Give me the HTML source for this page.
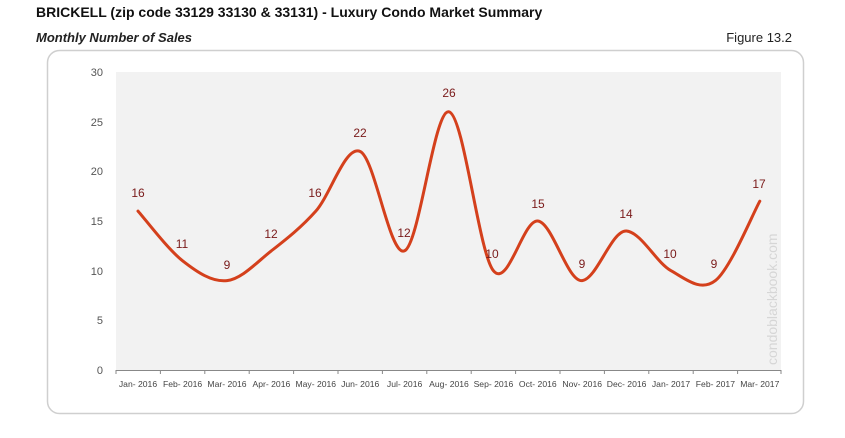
<!DOCTYPE html>
<html><head><meta charset="utf-8"><style>
body{margin:0;background:#fff;width:845px;height:433px;overflow:hidden;font-family:"Liberation Sans",sans-serif}
</style></head><body>
<svg width="845" height="433" xmlns="http://www.w3.org/2000/svg" font-family="Liberation Sans, sans-serif">
<text x="36" y="17" font-size="14" font-weight="bold" fill="#111">BRICKELL (zip code 33129 33130 &amp; 33131) - Luxury Condo Market Summary</text>
<text x="36" y="42" font-size="13" font-weight="bold" font-style="italic" fill="#222">Monthly Number of Sales</text>
<text x="792" y="42" font-size="13" fill="#222" text-anchor="end">Figure 13.2</text>
<rect x="47.5" y="50.5" width="756" height="363" rx="12" fill="#fff" stroke="#cfcfcf" stroke-width="1.5"/>
<rect x="116" y="72" width="665" height="298" fill="#f2f2f2"/>
<g font-size="11" fill="#555" text-anchor="end">
<text x="103" y="374">0</text><text x="103" y="324">5</text><text x="103" y="275">10</text><text x="103" y="225">15</text><text x="103" y="175">20</text><text x="103" y="126">25</text><text x="103" y="76">30</text>
</g>
<line x1="116" y1="370.5" x2="781" y2="370.5" stroke="#888" stroke-width="1"/>
<g stroke="#888" stroke-width="1">
<line x1="116" y1="370" x2="116" y2="374"/><line x1="160.4" y1="370" x2="160.4" y2="374"/><line x1="204.8" y1="370" x2="204.8" y2="374"/><line x1="249.2" y1="370" x2="249.2" y2="374"/><line x1="293.6" y1="370" x2="293.6" y2="374"/><line x1="338" y1="370" x2="338" y2="374"/><line x1="382.4" y1="370" x2="382.4" y2="374"/><line x1="426.8" y1="370" x2="426.8" y2="374"/><line x1="471.2" y1="370" x2="471.2" y2="374"/><line x1="515.6" y1="370" x2="515.6" y2="374"/><line x1="560" y1="370" x2="560" y2="374"/><line x1="604.4" y1="370" x2="604.4" y2="374"/><line x1="648.8" y1="370" x2="648.8" y2="374"/><line x1="693.2" y1="370" x2="693.2" y2="374"/><line x1="737.6" y1="370" x2="737.6" y2="374"/><line x1="781" y1="370" x2="781" y2="374"/>
</g>
<g font-size="8.6" fill="#444" text-anchor="middle">
<text x="138" y="387">Jan- 2016</text><text x="182.6" y="387">Feb- 2016</text><text x="227" y="387">Mar- 2016</text><text x="271.4" y="387">Apr- 2016</text><text x="315.8" y="387">May- 2016</text><text x="360.2" y="387">Jun- 2016</text><text x="404.6" y="387">Jul- 2016</text><text x="449" y="387">Aug- 2016</text><text x="493.4" y="387">Sep- 2016</text><text x="537.8" y="387">Oct- 2016</text><text x="582.2" y="387">Nov- 2016</text><text x="626.6" y="387">Dec- 2016</text><text x="671" y="387">Jan- 2017</text><text x="715.4" y="387">Feb- 2017</text><text x="759.8" y="387">Mar- 2017</text>
</g>
<text transform="translate(777,365) rotate(-90)" font-size="14" fill="#d6d6d6">condoblackbook.com</text>
<path fill="none" stroke="#d4401c" stroke-width="3" stroke-linecap="round" d="M138,211.1 C145.4,219.4 167.8,249.2 182.6,260.8 C197.4,272.4 212.2,282.3 227,280.6 C241.8,278.9 256.6,262.4 271.4,250.8 C286.2,239.2 301,227.7 315.8,211.1 C330.6,194.5 345.4,144.9 360.2,151.5 C375,158.1 389.8,257.4 404.6,250.8 C419.4,244.2 434.2,108.5 449,111.8 C463.8,115.1 478.6,252.5 493.4,270.7 C508.2,288.9 523,219.4 537.8,221 C552.6,222.6 567.4,282.3 582.2,280.6 C597,278.9 611.8,229.4 626.6,231 C641.4,232.7 656.2,262.4 671,270.7 C685.8,279 700.6,292.2 715.4,280.6 C730.2,269 752.4,214.5 759.8,201.2"/>
<g font-size="12" fill="#7a1a1a" text-anchor="middle">
<text x="138" y="197">16</text><text x="182" y="248">11</text><text x="227" y="269">9</text><text x="271" y="238">12</text><text x="315" y="197">16</text><text x="360" y="137">22</text><text x="404" y="237">12</text><text x="449" y="97">26</text><text x="492" y="258">10</text><text x="538" y="208">15</text><text x="582" y="268">9</text><text x="626" y="218">14</text><text x="670" y="258">10</text><text x="714" y="268">9</text><text x="759" y="188">17</text>
</g>
</svg>
</body></html>
